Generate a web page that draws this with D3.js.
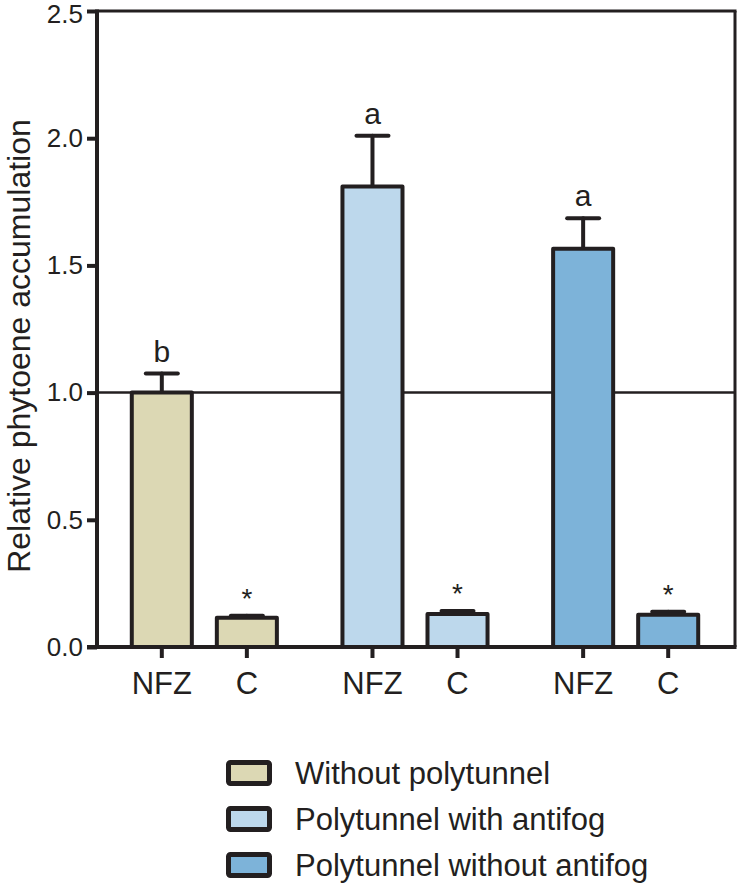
<!DOCTYPE html>
<html>
<head>
<meta charset="utf-8">
<script src="https://cdn.jsdelivr.net/npm/d3@7"></script>
<style>
  html, body { margin: 0; padding: 0; background: #fff; }
  svg { display: block; font-family: "Liberation Sans", Arial, sans-serif; }
</style>
</head>
<body>
<svg id="chart" width="738" height="883"></svg>
<script>
// ---- data ----
const groups = ["Without polytunnel", "Polytunnel with antifog", "Polytunnel without antifog"];
const treatments = ["NFZ", "C"];
const nfzMeans = [1.00, 1.81, 1.565];
const nfzErrors = [0.075, 0.20, 0.12];
const cMeans = [0.115, 0.13, 0.127];
const cErrors = [0.008, 0.012, 0.012];
const letters = ["b", "a", "a"];
const cMarks = ["*", "*", "*"];
const yTicks = [0, 0.5, 1.0, 1.5, 2.0, 2.5];
const colors = ["#dcd8b4", "#bdd8ec", "#7db3d9"];
const yLabel = "Relative phytoene accumulation";

// ---- layout ----
const ink = "#231f20";
const svg = d3.select("#chart");
const plotLeft = 97, plotRight = 735, plotTop = 11, plotBottom = 647;

const y = d3.scaleLinear().domain([0, 2.5]).range([plotBottom, plotTop]);
const xGroup = d3.scaleBand().domain(groups).range([99, 731]).padding(0);
const xInner = d3.scaleBand().domain(treatments).range([0, xGroup.bandwidth()])
  .paddingInner(0.247).paddingOuter(0.362);

const rows = [];
groups.forEach((g, i) => {
  rows.push({group: g, gi: i, t: "NFZ", mean: nfzMeans[i], err: nfzErrors[i], mark: letters[i]});
  rows.push({group: g, gi: i, t: "C", mean: cMeans[i], err: cErrors[i], mark: cMarks[i]});
});
const cx = d => xGroup(d.group) + xInner(d.t) + xInner.bandwidth() / 2;

// frame: top & right border
svg.append("line").attr("x1", plotLeft).attr("x2", plotRight + 1.5)
  .attr("y1", plotTop).attr("y2", plotTop).attr("stroke", ink).attr("stroke-width", 3);
svg.append("line").attr("x1", plotRight).attr("x2", plotRight)
  .attr("y1", plotTop).attr("y2", plotBottom).attr("stroke", ink).attr("stroke-width", 3);

// reference line at 1.0
svg.append("line").attr("x1", plotLeft).attr("x2", plotRight)
  .attr("y1", y(1)).attr("y2", y(1)).attr("stroke", ink).attr("stroke-width", 2.5);

// error bars
const eb = svg.append("g").attr("stroke", ink).attr("stroke-width", 4).attr("stroke-linecap", "round");
eb.selectAll("line.v").data(rows).join("line").attr("class", "v")
  .attr("x1", cx).attr("x2", cx).attr("y1", d => y(d.mean)).attr("y2", d => y(d.mean + d.err));
eb.selectAll("line.cap").data(rows).join("line").attr("class", "cap")
  .attr("x1", d => cx(d) - 16).attr("x2", d => cx(d) + 16)
  .attr("y1", d => y(d.mean + d.err)).attr("y2", d => y(d.mean + d.err));

// bars
svg.append("g").selectAll("rect").data(rows).join("rect")
  .attr("x", d => cx(d) - xInner.bandwidth() / 2 + 2)
  .attr("width", xInner.bandwidth() - 4)
  .attr("y", d => y(d.mean))
  .attr("height", d => y(0) - y(d.mean))
  .attr("fill", d => colors[d.gi])
  .attr("stroke", ink).attr("stroke-width", 4).attr("stroke-linejoin", "round");

// annotations
svg.append("g").selectAll("text").data(rows).join("text")
  .attr("x", cx)
  .attr("y", d => y(d.mean + d.err) - (d.t === "NFZ" ? 12 : 8))
  .attr("text-anchor", "middle")
  .attr("font-size", d => d.t === "NFZ" ? 30 : 28)
  .attr("fill", ink)
  .text(d => d.mark);

// y axis
const yAxis = svg.append("g").attr("transform", `translate(${plotLeft},0)`)
  .call(d3.axisLeft(y).tickValues(yTicks).tickFormat(d3.format(".1f")).tickSize(10).tickPadding(4));
yAxis.select(".domain").attr("stroke", ink).attr("stroke-width", 4).attr("d", `M0,${plotTop - 1.5}V${plotBottom + 2}`);
yAxis.selectAll(".tick line").attr("stroke", ink).attr("stroke-width", 4);
yAxis.selectAll(".tick text").attr("font-size", 26).attr("fill", ink)
  .attr("font-family", "'Liberation Sans', Arial, sans-serif");
yAxis.selectAll(".tick text").filter(d => d === 2.5).attr("dy", "0.46em");

// x axis baseline
svg.append("line").attr("x1", plotLeft - 10).attr("x2", plotRight + 1.5)
  .attr("y1", plotBottom).attr("y2", plotBottom).attr("stroke", ink).attr("stroke-width", 4);

// x axis ticks per group
groups.forEach(g => {
  const ax = svg.append("g").attr("transform", `translate(${xGroup(g)},${plotBottom})`)
    .call(d3.axisBottom(xInner).tickSize(11).tickPadding(14));
  ax.select(".domain").remove();
  ax.selectAll(".tick line").attr("stroke", ink).attr("stroke-width", 4);
  ax.selectAll(".tick text").attr("font-size", 31).attr("fill", ink)
    .attr("font-family", "'Liberation Sans', Arial, sans-serif");
});

// y label
svg.append("text")
  .attr("transform", `translate(30,346) rotate(-90)`)
  .attr("text-anchor", "middle")
  .attr("font-size", 32)
  .attr("fill", ink)
  .text(yLabel);

// legend
const legendY = d3.scalePoint().domain(groups).range([773, 865]);
const lg = svg.append("g").selectAll("g").data(groups).join("g")
  .attr("transform", d => `translate(226,${legendY(d)})`);
lg.append("rect").attr("x", 2.5).attr("y", -10.5).attr("width", 41).attr("height", 21)
  .attr("rx", 2).attr("fill", (d, i) => colors[i]).attr("stroke", ink).attr("stroke-width", 5);
lg.append("text").attr("x", 69).attr("y", 11).attr("font-size", 31).attr("fill", ink).text(d => d);
</script>
</body>
</html>
